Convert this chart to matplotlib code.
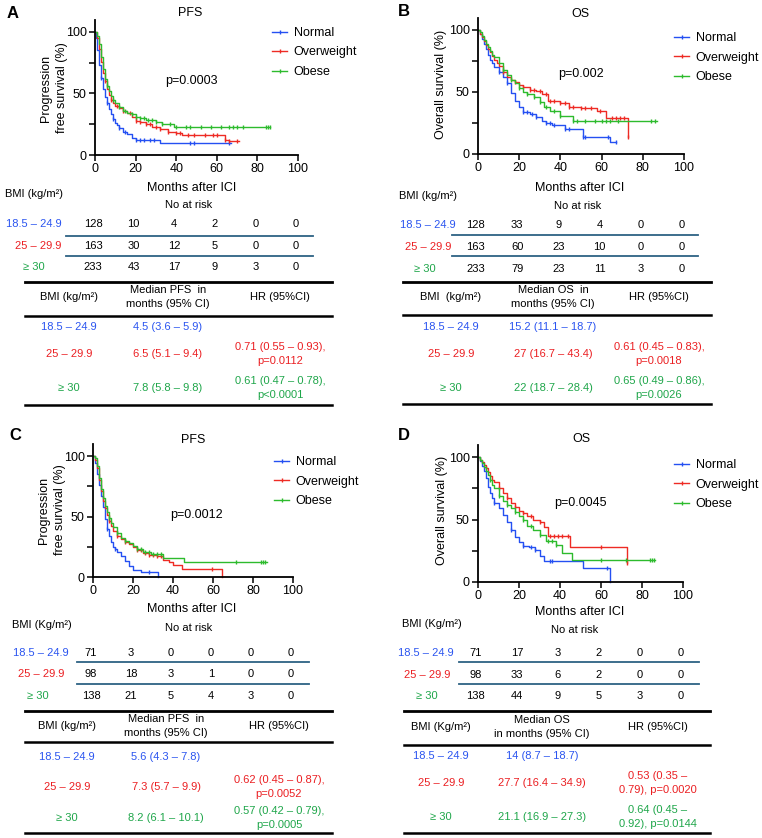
import numpy as np
import matplotlib.pyplot as plt
from matplotlib.lines import Line2D
from matplotlib.transforms import blended_transform_factory

plt.rcParams['font.family'] = ['Liberation Sans', 'DejaVu Sans']
plt.rcParams['font.size'] = 9

W, H = 762, 838

BLUE, RED, GREEN = '#2450F2', '#EE2B24', '#2DBB2D'
BLUE_T, RED_T, GREEN_T = '#2B55F0', '#EB1F22', '#1FA64A'
TEAL = '#2D6284'
line_colors = [BLUE, RED, GREEN]
text_colors = [BLUE_T, RED_T, GREEN_T]

groups = ['Normal', 'Overweight', 'Obese']
bmi_labels = ['18.5 – 24.9', '25 – 29.9', '≥ 30']
risk_times = [0, 20, 40, 60, 80, 100]

# ---- A: PFS ----
a_normal_t = [0, 0.5, 1, 2, 3, 4, 5, 6, 7, 8, 9, 10, 11, 12, 14, 16, 18, 20, 32, 67]
a_normal_s = [100, 95, 85, 73, 63, 54, 47, 42, 37, 33, 29, 26, 24, 22, 19, 17, 14, 12, 9.5, 9.5]
a_over_t = [0, 1, 2, 3, 4, 5, 6, 7, 8, 9, 10, 12, 14, 16, 18, 20, 22, 25, 28, 32, 36, 40, 43, 64, 66, 71]
a_over_s = [100, 95, 86, 76, 67, 60, 54, 49, 45, 42, 40, 38, 36, 34, 31, 28, 27, 25, 23, 21, 19, 18, 16, 12, 11, 11]
a_obese_t = [0, 1, 2, 3, 4, 5, 6, 7, 8, 9, 10, 12, 14, 16, 18, 20, 22, 25, 30, 33, 39, 86]
a_obese_s = [100, 97, 90, 80, 70, 62, 56, 52, 48, 45, 42, 39, 36, 34, 33, 31, 30, 28.5, 27, 25.5, 23, 23]
a_normal_c = [3, 6, 9, 12, 15, 20, 22, 24, 27, 29, 47, 49, 66]
a_over_c = [5, 8, 11, 14, 17, 20, 22, 25, 27, 30, 32, 36, 40, 42, 46, 49, 54, 58, 60, 64, 66, 70]
a_obese_c = [6, 9, 12, 15, 18, 20, 22, 24, 26, 28, 30, 33, 37, 40, 45, 47, 52, 57, 62, 66, 68, 70, 73, 84, 85, 86]

# ---- B: OS ----
b_normal_t = [0, 1, 2, 3, 4, 5, 6, 7, 8, 10, 12, 14, 16, 18, 20, 22, 25, 28, 31, 33, 36, 42, 51, 64, 67]
b_normal_s = [100, 97, 93, 89, 85, 80, 76, 73, 70, 66, 62, 57, 49, 43, 38, 34, 32, 30, 27, 25, 23, 20, 14, 10, 10]
b_over_t = [0, 1, 2, 3, 4, 5, 6, 7, 8, 9, 10, 12, 14, 16, 18, 20, 22, 25, 28, 31, 34, 40, 44, 50, 58, 62, 73]
b_over_s = [100, 97, 94, 91, 88, 85, 82, 79, 76, 73, 71, 66, 62, 60, 58, 56, 54, 52, 51, 48, 43, 41, 38, 37, 35, 29, 14]
b_obese_t = [0, 1, 2, 3, 4, 5, 6, 7, 8, 10, 12, 14, 16, 18, 20, 22, 24, 27, 30, 32, 35, 40, 46, 87]
b_obese_s = [100, 98, 95, 92, 89, 86, 83, 80, 78, 73, 68, 64, 60, 57, 53, 50, 48, 46, 42, 38, 35, 31, 27, 27]
b_normal_c = [10, 14, 22, 24, 26, 28, 33, 35, 37, 42, 44, 51, 52, 63, 67]
b_over_c = [12, 18, 22, 25, 27, 30, 33, 35, 37, 40, 42, 44, 46, 50, 52, 55, 59, 65, 67, 69, 71, 73]
b_obese_c = [12, 16, 20, 24, 27, 30, 33, 37, 40, 46, 48, 52, 57, 60, 62, 64, 68, 84, 86]

# ---- C: PFS ----
c_normal_t = [0, 1, 2, 3, 4, 5, 6, 7, 8, 9, 10, 11, 12, 14, 16, 18, 20, 24, 32.5]
c_normal_s = [100, 94, 85, 76, 67, 58, 48, 40, 34, 29, 25, 23, 21, 17, 13, 9, 6, 4, 0]
c_over_t = [0, 1, 2, 3, 4, 5, 6, 7, 8, 9, 10, 12, 14, 16, 18, 20, 22, 25, 28, 32, 35, 38, 40, 44.5, 64.3]
c_over_s = [100, 97, 90, 80, 71, 63, 57, 51, 46, 42, 38, 34, 31, 29, 27, 25, 22, 20, 18, 17, 14, 12, 10, 6.5, 0]
c_obese_t = [0, 1, 2, 3, 4, 5, 6, 7, 8, 9, 10, 12, 14, 16, 18, 20, 22, 25, 29, 35, 45.5, 87]
c_obese_s = [100, 98, 92, 82, 73, 65, 59, 54, 49, 45, 41, 36, 32, 30, 28, 26, 23, 21, 19, 16, 12.5, 12.5]
c_normal_c = [7, 11, 28]
c_over_c = [8, 12, 16, 22, 24, 26, 28, 30, 32, 34, 59.5]
c_obese_c = [8, 12, 16, 22, 24, 26, 28, 30, 32, 34, 71.5, 84, 85, 86]

# ---- D: OS ----
d_normal_t = [0, 1, 2, 3, 4, 5, 6, 7, 8, 10, 12, 14, 16, 18, 20, 22, 25, 28, 30, 32, 51, 64.4]
d_normal_s = [100, 97, 93, 89, 83, 76, 71, 67, 63, 59, 54, 48, 42, 36, 32, 29, 28, 26, 21, 16.5, 11.5, 0]
d_over_t = [0, 1, 2, 3, 4, 5, 6, 7, 8, 10, 12, 14, 16, 18, 20, 22, 24, 27, 30, 32, 34, 45, 72.5]
d_over_s = [100, 98, 96, 94, 91, 88, 85, 82, 80, 75, 71, 67, 63, 60, 57, 55, 53, 50, 48, 44, 37, 28, 15]
d_obese_t = [0, 1, 2, 3, 4, 5, 6, 7, 8, 10, 12, 14, 16, 18, 20, 22, 24, 27, 30, 33, 38, 41, 46, 86.5]
d_obese_s = [100, 98, 95, 92, 89, 86, 82, 78, 75, 69, 65, 62, 59, 56, 53, 50, 45, 42, 38, 33, 30, 23, 18, 18]
d_normal_c = [8, 16, 22, 26, 28, 35, 36, 63]
d_over_c = [4, 10, 14, 18, 22, 26, 30, 35, 37, 39, 41, 44, 60, 72.5]
d_obese_c = [6, 10, 14, 18, 22, 26, 30, 34, 36, 38, 60, 72, 84, 85, 86]

# numbers at risk
a_risk = [[128, 10, 4, 2, 0, 0], [163, 30, 12, 5, 0, 0], [233, 43, 17, 9, 3, 0]]
b_risk = [[128, 33, 9, 4, 0, 0], [163, 60, 23, 10, 0, 0], [233, 79, 23, 11, 3, 0]]
c_risk = [[71, 3, 0, 0, 0, 0], [98, 18, 3, 1, 0, 0], [138, 21, 5, 4, 3, 0]]
d_risk = [[71, 17, 3, 2, 0, 0], [98, 33, 6, 2, 0, 0], [138, 44, 9, 5, 3, 0]]

# median / HR tables
a_median = ['4.5 (3.6 – 5.9)', '6.5 (5.1 – 9.4)', '7.8 (5.8 – 9.8)']
a_hr = ['', '0.71 (0.55 – 0.93),\np=0.0112', '0.61 (0.47 – 0.78),\np<0.0001']
b_median = ['15.2 (11.1 – 18.7)', '27 (16.7 – 43.4)', '22 (18.7 – 28.4)']
b_hr = ['', '0.61 (0.45 – 0.83),\np=0.0018', '0.65 (0.49 – 0.86),\np=0.0026']
c_median = ['5.6 (4.3 – 7.8)', '7.3 (5.7 – 9.9)', '8.2 (6.1 – 10.1)']
c_hr = ['', '0.62 (0.45 – 0.87),\np=0.0052', '0.57 (0.42 – 0.79),\np=0.0005']
d_median = ['14 (8.7 – 18.7)', '27.7 (16.4 – 34.9)', '21.1 (16.9 – 27.3)']
d_hr = ['', '0.53 (0.35 –\n0.79), p=0.0020', '0.64 (0.45 –\n0.92), p=0.0144']


fig = plt.figure(figsize=(W / 100, H / 100), dpi=100)


def fx(px):
    return px / W


def fy(py):
    return 1 - py / H


def txt(px, py, s, **kw):
    kw.setdefault('ha', 'center')
    kw.setdefault('va', 'center')
    fig.text(fx(px), fy(py), s, **kw)


def hline(x0, x1, py, color='black', lw=1.8):
    fig.add_artist(Line2D([fx(x0), fx(x1)], [fy(py), fy(py)], color=color, lw=lw,
                          transform=fig.transFigure))


def km_panel(box, curves, censors, letter, title, ylabel, pval, p_xy, lay):
    left, right, bottom, top = box
    ax = fig.add_axes([fx(left), fy(bottom), fx(right) - fx(left), fy(top) - fy(bottom)])
    for (t, s), cens, col, name in zip(curves, censors, line_colors, groups):
        t = np.array(t, float)
        s = np.array(s, float)
        ax.step(t, s, where='post', color=col, lw=1.0, clip_on=False, label=name)
        idx = np.searchsorted(t, cens, side='right') - 1
        ax.plot(cens, s[idx], ls='none', marker='|', ms=3, mew=1.0, color=col, clip_on=False)
    ax.set_xlim(0, 100)
    ax.set_ylim(0, 110)
    ax.set_xticks(risk_times)
    ax.set_yticks([0, 25, 50, 75, 100], labels=['0', '', '50', '', '100'])
    for sp in ['top', 'right']:
        ax.spines[sp].set_visible(False)
    for sp in ['left', 'bottom']:
        ax.spines[sp].set_linewidth(1.3)
    ax.tick_params(direction='out', length=4, width=1.1, labelsize=9, pad=2)
    ax.text(p_xy[0], p_xy[1], pval, ha='center', va='center', fontsize=9)
    handles = [Line2D([], [], color=c, lw=1.0, marker='|', ms=3) for c in line_colors]
    lx, ly = lay['legend']
    fig.legend(handles, groups, loc='upper left', bbox_to_anchor=(fx(lx), fy(ly)),
               bbox_transform=fig.transFigure, frameon=False, fontsize=9,
               handlelength=1.2, handletextpad=0.55, labelspacing=0.6,
               borderpad=0, borderaxespad=0)
    txt(*lay['letter'], letter, fontsize=12, fontweight='bold')
    txt(*lay['title'], title, fontsize=9)
    txt(*lay['ylabel'], ylabel, rotation=90, multialignment='center', fontsize=9,
        linespacing=1.4)
    txt(*lay['xlabel'], 'Months after ICI', fontsize=9)
    return ax


def tables(ax, risk, risk_hdr, med_hdr, bmi_hdr, median, hr, lay):
    tr = blended_transform_factory(ax.transData, fig.transFigure)
    txt(lay['risk_hdr'][0], lay['risk_hdr'][1], risk_hdr, ha='left', fontsize=8)
    txt(*lay['noatrisk'], 'No at risk', fontsize=8)
    for i in range(3):
        ry = lay['risk_y'][i]
        txt(lay['risk_lab_x'][i], ry, bmi_labels[i], color=text_colors[i], fontsize=8)
        for x, n in zip(risk_times, risk[i]):
            ax.text(x - 1, fy(ry), str(n), transform=tr, ha='center', va='center',
                    fontsize=8, clip_on=False)
    x0, x1 = lay['teal_x']
    for py in lay['teal_y']:
        hline(x0, x1, py, color=TEAL, lw=1.3)
    x0, x1 = lay['black_x']
    for py, lw in zip(lay['black_y'], [2.0, 1.8, 1.8]):
        hline(x0, x1, py, lw=lw)
    cx = lay['cols']
    hy = lay['hdr_y']
    txt(cx[0], hy, bmi_hdr, fontsize=8)
    txt(cx[1], hy, med_hdr, fontsize=8, linespacing=1.5)
    txt(cx[2], hy, 'HR (95%CI)', fontsize=8)
    for i in range(3):
        y = lay['row_y'][i]
        col = text_colors[i]
        txt(cx[0], y, bmi_labels[i], color=col, fontsize=8)
        txt(cx[1], y, median[i], color=col, fontsize=8)
        if hr[i]:
            txt(cx[2], y, hr[i], color=col, fontsize=8, linespacing=1.5)


lay_a = dict(legend=(272, 27), letter=(13, 14), title=(190, 13), ylabel=(54, 88),
             xlabel=(192, 188), risk_hdr=(5, 194), noatrisk=(189, 205),
             risk_y=[224, 246, 267], risk_lab_x=[34, 38.5, 33.5],
             teal_x=(66, 313), teal_y=[236, 256], black_x=(25, 332), black_y=[282, 316, 405],
             cols=[69, 168, 280], hdr_y=297, row_y=[327, 354, 388])
lay_b = dict(legend=(674, 32), letter=(404, 11), title=(580, 14), ylabel=(441, 84),
             xlabel=(580, 188), risk_hdr=(399, 196), noatrisk=(578, 206),
             risk_y=[225, 247, 269], risk_lab_x=[427.5, 428, 424.5],
             teal_x=(452, 698), teal_y=[235, 256], black_x=(403, 711), black_y=[282, 315, 404],
             cols=[451, 553, 659], hdr_y=297, row_y=[327, 354, 388])
lay_c = dict(legend=(274, 456), letter=(15, 435), title=(193, 440), ylabel=(52, 510),
             xlabel=(192, 609), risk_hdr=(12, 625), noatrisk=(189, 628),
             risk_y=[653, 674, 696], risk_lab_x=[40.5, 41.5, 38],
             teal_x=(77, 309), teal_y=[662, 684], black_x=(25, 332), black_y=[711, 742, 833],
             cols=[67, 166, 279], hdr_y=726, row_y=[757, 787, 818])
lay_d = dict(legend=(674, 459), letter=(404, 435), title=(581, 439), ylabel=(442, 510),
             xlabel=(580, 612), risk_hdr=(402, 624), noatrisk=(575, 630),
             risk_y=[653, 675, 696], risk_lab_x=[426, 427, 427],
             teal_x=(459, 699), teal_y=[662, 684], black_x=(404, 710), black_y=[711, 745, 833],
             cols=[441, 542, 658], hdr_y=727, row_y=[756, 783, 817])

ax_a = km_panel((95, 298, 155, 155 - 110 * 1.23),
                [(a_normal_t, a_normal_s), (a_over_t, a_over_s), (a_obese_t, a_obese_s)],
                [a_normal_c, a_over_c, a_obese_c], 'A', 'PFS',
                'Progression\nfree survival (%)', 'p=0.0003', (47.6, 60), lay_a)
ax_b = km_panel((478, 684, 154, 154 - 110 * 1.24),
                [(b_normal_t, b_normal_s), (b_over_t, b_over_s), (b_obese_t, b_obese_s)],
                [b_normal_c, b_over_c, b_obese_c], 'B', 'OS',
                'Overall survival (%)', 'p=0.002', (50, 64.5), lay_b)
ax_c = km_panel((93, 293, 577, 577 - 110 * 1.21),
                [(c_normal_t, c_normal_s), (c_over_t, c_over_s), (c_obese_t, c_obese_s)],
                [c_normal_c, c_over_c, c_obese_c], 'C', 'PFS',
                'Progression\nfree survival (%)', 'p=0.0012', (51.5, 51), lay_c)
ax_d = km_panel((478, 683, 582, 582 - 110 * 1.25),
                [(d_normal_t, d_normal_s), (d_over_t, d_over_s), (d_obese_t, d_obese_s)],
                [d_normal_c, d_over_c, d_obese_c], 'D', 'OS',
                'Overall survival (%)', 'p=0.0045', (50, 63), lay_d)

tables(ax_a, a_risk, 'BMI (kg/m²)', 'Median PFS  in\nmonths (95% CI)', 'BMI (kg/m²)',
       a_median, a_hr, lay_a)
tables(ax_b, b_risk, 'BMI (kg/m²)', 'Median OS  in\nmonths (95% CI)', 'BMI  (kg/m²)',
       b_median, b_hr, lay_b)
tables(ax_c, c_risk, 'BMI (Kg/m²)', 'Median PFS  in\nmonths (95% CI)', 'BMI (kg/m²)',
       c_median, c_hr, lay_c)
tables(ax_d, d_risk, 'BMI (Kg/m²)', 'Median OS\nin months (95% CI)', 'BMI (Kg/m²)',
       d_median, d_hr, lay_d)

fig.savefig('out.png', dpi=100)
